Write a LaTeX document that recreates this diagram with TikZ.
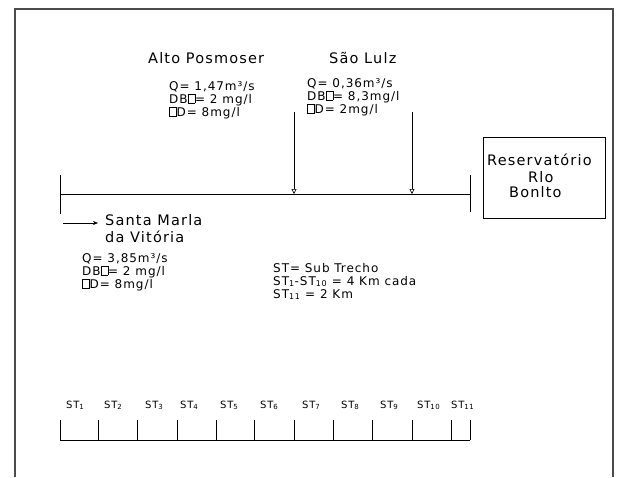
\documentclass[tikz,border=0pt]{standalone}
\usepackage{fontspec}
\setmainfont[LetterSpace=8]{DejaVu Sans}
\usetikzlibrary{arrows.meta}
\newcommand\bx{{\setlength\fboxsep{0pt}\setlength\fboxrule{0.45pt}\fbox{\rule{0pt}{0.72em}\hspace{0.55em}}}}
\begin{document}
\begin{tikzpicture}[x=1pt,y=-1pt,
  txt/.style={inner sep=0pt,anchor=base west,font=\fontsize{12}{13}\selectfont},
  big/.style={inner sep=0pt,anchor=base west,font=\fontsize{14.5}{16}\selectfont},
  stl/.style={inner sep=0pt,anchor=base west,font=\fontsize{10}{11}\selectfont},
  ln/.style={line width=0.6pt},
  down/.style={ln,-{Triangle[open,width=5pt,length=5pt]}}]
\useasboundingbox (0,0) rectangle (624,477);
% frame
\draw[line width=1.3pt,black!70] (15,477) -- (15,9) -- (613,9) -- (613,477);
% main river line
\coordinate (L) at (60,194); \coordinate (R) at (470,194);
\coordinate (Lt) at (60,175); \coordinate (Lb) at (60,214);
\coordinate (Rt) at (470,175); \coordinate (Rb) at (470,212);
\draw[ln] (L) -- (R);
\draw[ln] (Lt) -- (Lb);
\draw[ln] (Rt) -- (Rb);
% tributary arrows
\coordinate (aT) at (294,112); \coordinate (aB) at (294,194);
\coordinate (bT) at (412,112); \coordinate (bB) at (412,194);
\draw[down] (aT) -- (aB);
\draw[down] (bT) -- (bB);
% Alto Posmoser
\node[big] (alto) at (148,63) {Alto Posmoser};
\node[txt] (a1) at (169,90) {Q= 1,47m³/s};
\node[txt] (a2) at (169,103) {DB\bx= 2 mg/l};
\node[txt] (a3) at (169,116) {\bx D= 8mg/l};
% Sao Luiz
\node[big] (sao) at (329,63) {São Lulz};
\node[txt] (s1) at (307,87) {Q= 0,36m³/s};
\node[txt] (s2) at (307,100) {DB\bx= 8,3mg/l};
\node[txt] (s3) at (307,113) {\bx D= 2mg/l};
% Santa Maria
\coordinate (mA) at (63,223); \coordinate (mB) at (98,223);
\draw[ln,-{Stealth[length=5pt,width=4pt]}] (mA) -- (mB);
\node[big] (m0) at (105,225) {Santa Marla};
\node[big] (m00) at (105,242) {da Vitória};
\node[txt] (m1) at (82,262) {Q= 3,85m³/s};
\node[txt] (m2) at (82,275) {DB\bx= 2 mg/l};
\node[txt] (m3) at (82,288) {\bx D= 8mg/l};
% legend
\node[txt] (g1) at (273,272) {ST= Sub Trecho};
\node[txt] (g2) at (273,285) {ST\textsubscript{1}-ST\textsubscript{10} = 4 Km cada};
\node[txt] (g3) at (273,298) {ST\textsubscript{11} = 2 Km};
% reservoir
\node[draw,ln,minimum width=122pt,minimum height=81pt,inner sep=0pt] (res) at (544,177.5) {};
\node[big] (r1) at (487,165) {Reservatório};
\node[big] (r2) at (528,182) {Rlo};
\node[big] (r3) at (509,197) {Bonlto};
% segments
\coordinate (sL) at (60,440); \coordinate (sR) at (470,440);
\draw[ln] (sL) -- (sR);
\foreach \x in {60,98,137,177,216,254,294,333,372,412,451,470}
  \draw[ln] (\x,420) -- (\x,440);
\foreach \x/\n in {66/1,104/2,145/3,180/4,220/5,260/6,302/7,341/8,380/9,417/10,451/11}
  \node[stl] (st\n) at (\x,408) {ST\textsubscript{\n}};
\end{tikzpicture}
\end{document}
